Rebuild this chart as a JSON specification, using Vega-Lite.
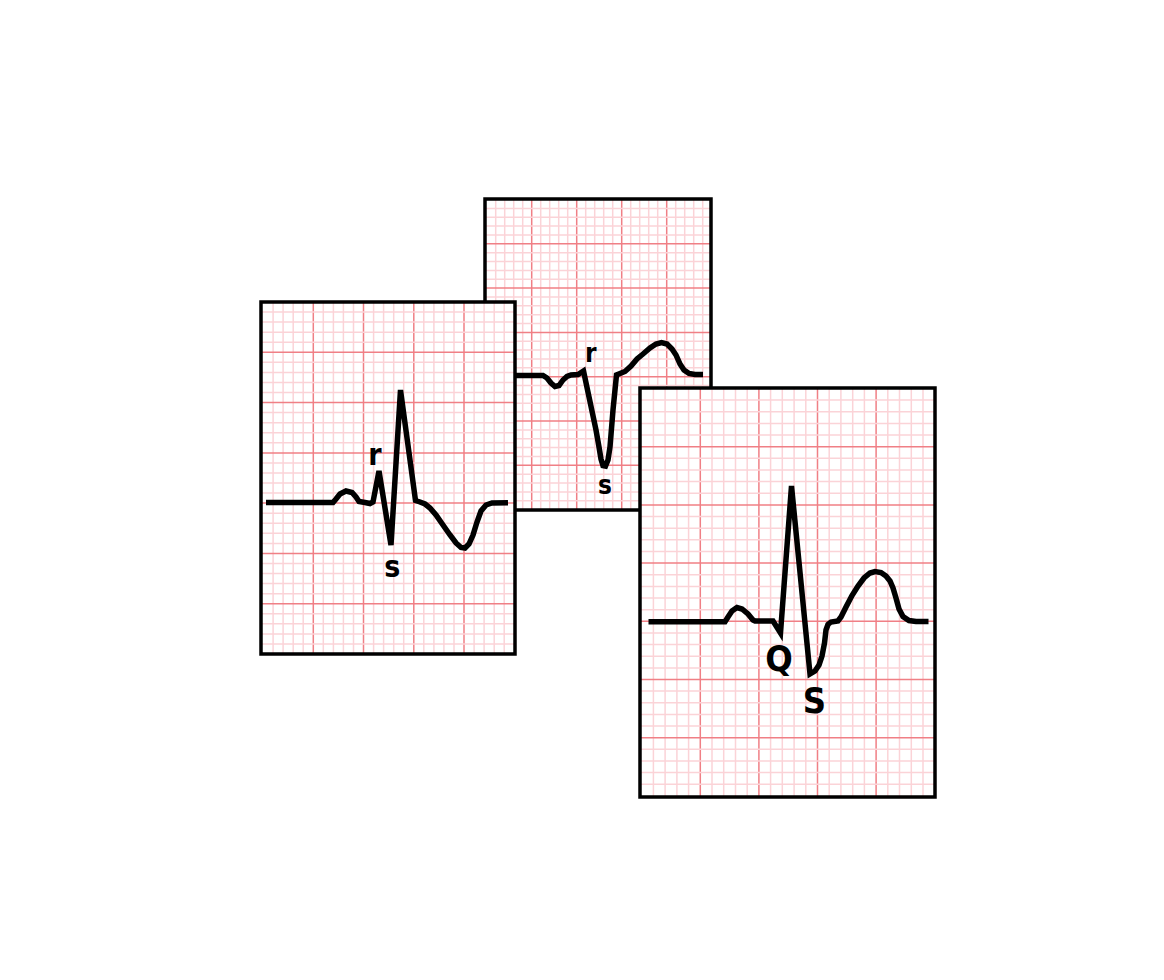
{
"$schema":"https://vega.github.io/schema/vega-lite/v6.json",
"width":1164,"height":980,"autosize":{"type":"fit","contains":"padding"},"padding":0,
"background":"#ffffff",
"config":{"view":{"stroke":null}},
"datasets":{
"panels":[{"p":"M","l":485,"r":711,"t":199,"b":510},{"p":"L","l":261,"r":515,"t":302,"b":654},{"p":"R","l":640,"r":935,"t":388,"b":797}],
"v":[
{"p":"L","k":"m","c":273.1},{"p":"L","k":"m","c":283.1},{"p":"L","k":"m","c":293.2},{"p":"L","k":"m","c":303.2},{"p":"L","k":"m","c":323.3},{"p":"L","k":"m","c":333.4},{"p":"L","k":"m","c":343.4},{"p":"L","k":"m","c":353.5},{"p":"L","k":"m","c":373.6},{"p":"L","k":"m","c":383.6},{"p":"L","k":"m","c":393.7},{"p":"L","k":"m","c":403.7},{"p":"L","k":"m","c":423.8},{"p":"L","k":"m","c":433.9},{"p":"L","k":"m","c":443.9},{"p":"L","k":"m","c":454.0},{"p":"L","k":"m","c":474.1},{"p":"L","k":"m","c":484.1},{"p":"L","k":"m","c":494.2},{"p":"L","k":"m","c":504.2},
{"p":"L","k":"M","c":313.3},{"p":"L","k":"M","c":363.5},{"p":"L","k":"M","c":413.8},{"p":"L","k":"M","c":464.0},
{"p":"M","k":"m","c":495.7},{"p":"M","k":"m","c":504.7},{"p":"M","k":"m","c":513.7},{"p":"M","k":"m","c":522.7},{"p":"M","k":"m","c":540.7},{"p":"M","k":"m","c":549.7},{"p":"M","k":"m","c":558.7},{"p":"M","k":"m","c":567.7},{"p":"M","k":"m","c":585.7},{"p":"M","k":"m","c":594.7},{"p":"M","k":"m","c":603.7},{"p":"M","k":"m","c":612.7},{"p":"M","k":"m","c":630.7},{"p":"M","k":"m","c":639.7},{"p":"M","k":"m","c":648.7},{"p":"M","k":"m","c":657.7},{"p":"M","k":"m","c":675.7},{"p":"M","k":"m","c":684.7},{"p":"M","k":"m","c":693.7},{"p":"M","k":"m","c":702.7},
{"p":"M","k":"M","c":531.7},{"p":"M","k":"M","c":576.7},{"p":"M","k":"M","c":621.7},{"p":"M","k":"M","c":666.7},
{"p":"R","k":"m","c":653.4},{"p":"R","k":"m","c":665.1},{"p":"R","k":"m","c":676.9},{"p":"R","k":"m","c":688.6},{"p":"R","k":"m","c":712.0},{"p":"R","k":"m","c":723.7},{"p":"R","k":"m","c":735.5},{"p":"R","k":"m","c":747.2},{"p":"R","k":"m","c":770.6},{"p":"R","k":"m","c":782.3},{"p":"R","k":"m","c":794.1},{"p":"R","k":"m","c":805.8},{"p":"R","k":"m","c":829.2},{"p":"R","k":"m","c":840.9},{"p":"R","k":"m","c":852.7},{"p":"R","k":"m","c":864.4},{"p":"R","k":"m","c":887.8},{"p":"R","k":"m","c":899.5},{"p":"R","k":"m","c":911.3},{"p":"R","k":"m","c":923.0},
{"p":"R","k":"M","c":700.3},{"p":"R","k":"M","c":758.9},{"p":"R","k":"M","c":817.5},{"p":"R","k":"M","c":876.1}
],
"h":[
{"p":"L","k":"m","c":312.1},{"p":"L","k":"m","c":322.1},{"p":"L","k":"m","c":332.2},{"p":"L","k":"m","c":342.2},{"p":"L","k":"m","c":362.3},{"p":"L","k":"m","c":372.4},{"p":"L","k":"m","c":382.5},{"p":"L","k":"m","c":392.5},{"p":"L","k":"m","c":412.6},{"p":"L","k":"m","c":422.7},{"p":"L","k":"m","c":432.7},{"p":"L","k":"m","c":442.8},{"p":"L","k":"m","c":462.9},{"p":"L","k":"m","c":473.0},{"p":"L","k":"m","c":483.0},{"p":"L","k":"m","c":493.1},{"p":"L","k":"m","c":513.2},{"p":"L","k":"m","c":523.3},{"p":"L","k":"m","c":533.3},{"p":"L","k":"m","c":543.4},{"p":"L","k":"m","c":563.5},{"p":"L","k":"m","c":573.5},{"p":"L","k":"m","c":583.6},{"p":"L","k":"m","c":593.7},{"p":"L","k":"m","c":613.8},{"p":"L","k":"m","c":623.8},{"p":"L","k":"m","c":633.9},{"p":"L","k":"m","c":643.9},
{"p":"L","k":"M","c":352.3},{"p":"L","k":"M","c":402.6},{"p":"L","k":"M","c":452.9},{"p":"L","k":"M","c":503.1},{"p":"L","k":"M","c":553.4},{"p":"L","k":"M","c":603.7},
{"p":"M","k":"m","c":208.4},{"p":"M","k":"m","c":217.2},{"p":"M","k":"m","c":226.1},{"p":"M","k":"m","c":234.9},{"p":"M","k":"m","c":252.7},{"p":"M","k":"m","c":261.5},{"p":"M","k":"m","c":270.4},{"p":"M","k":"m","c":279.2},{"p":"M","k":"m","c":297.0},{"p":"M","k":"m","c":305.8},{"p":"M","k":"m","c":314.7},{"p":"M","k":"m","c":323.5},{"p":"M","k":"m","c":341.3},{"p":"M","k":"m","c":350.1},{"p":"M","k":"m","c":359.0},{"p":"M","k":"m","c":367.8},{"p":"M","k":"m","c":385.6},{"p":"M","k":"m","c":394.4},{"p":"M","k":"m","c":403.3},{"p":"M","k":"m","c":412.1},{"p":"M","k":"m","c":429.9},{"p":"M","k":"m","c":438.7},{"p":"M","k":"m","c":447.6},{"p":"M","k":"m","c":456.4},{"p":"M","k":"m","c":474.2},{"p":"M","k":"m","c":483.0},{"p":"M","k":"m","c":491.9},{"p":"M","k":"m","c":500.7},
{"p":"M","k":"M","c":243.8},{"p":"M","k":"M","c":288.1},{"p":"M","k":"M","c":332.4},{"p":"M","k":"M","c":376.7},{"p":"M","k":"M","c":421.0},{"p":"M","k":"M","c":465.3},
{"p":"R","k":"m","c":400.1},{"p":"R","k":"m","c":411.8},{"p":"R","k":"m","c":423.4},{"p":"R","k":"m","c":435.1},{"p":"R","k":"m","c":458.3},{"p":"R","k":"m","c":470.0},{"p":"R","k":"m","c":481.6},{"p":"R","k":"m","c":493.3},{"p":"R","k":"m","c":516.5},{"p":"R","k":"m","c":528.2},{"p":"R","k":"m","c":539.8},{"p":"R","k":"m","c":551.5},{"p":"R","k":"m","c":574.7},{"p":"R","k":"m","c":586.4},{"p":"R","k":"m","c":598.0},{"p":"R","k":"m","c":609.7},{"p":"R","k":"m","c":632.9},{"p":"R","k":"m","c":644.6},{"p":"R","k":"m","c":656.2},{"p":"R","k":"m","c":667.9},{"p":"R","k":"m","c":691.1},{"p":"R","k":"m","c":702.8},{"p":"R","k":"m","c":714.4},{"p":"R","k":"m","c":726.1},{"p":"R","k":"m","c":749.3},{"p":"R","k":"m","c":761.0},{"p":"R","k":"m","c":772.6},{"p":"R","k":"m","c":784.3},
{"p":"R","k":"M","c":446.7},{"p":"R","k":"M","c":504.9},{"p":"R","k":"M","c":563.1},{"p":"R","k":"M","c":621.3},{"p":"R","k":"M","c":679.5},{"p":"R","k":"M","c":737.7}
],
"trace":[
{"p":"L","x":266,"y":502.5},{"p":"L","x":333,"y":502.5},{"p":"L","x":336,"y":499},{"p":"L","x":340,"y":494},{"p":"L","x":346,"y":491},{"p":"L","x":352,"y":492.5},{"p":"L","x":356,"y":497},{"p":"L","x":359,"y":501.5},{"p":"L","x":365,"y":502.5},{"p":"L","x":370,"y":503.5},{"p":"L","x":373,"y":502},{"p":"L","x":379,"y":471},{"p":"L","x":391,"y":545},{"p":"L","x":400.5,"y":390},{"p":"L","x":415.5,"y":500.5},{"p":"L","x":420,"y":502},{"p":"L","x":425,"y":504},{"p":"L","x":430,"y":508},{"p":"L","x":436,"y":515},{"p":"L","x":443,"y":525},{"p":"L","x":450,"y":535},{"p":"L","x":456,"y":543},{"p":"L","x":461,"y":547.5},{"p":"L","x":465,"y":548},{"p":"L","x":469,"y":544},{"p":"L","x":473,"y":535},{"p":"L","x":477,"y":522},{"p":"L","x":481,"y":511},{"p":"L","x":486,"y":505},{"p":"L","x":492,"y":503},{"p":"L","x":508,"y":502.7},
{"p":"M","x":488,"y":375.5},{"p":"M","x":543,"y":375.5},{"p":"M","x":547,"y":378},{"p":"M","x":551,"y":383},{"p":"M","x":555,"y":386.5},{"p":"M","x":559,"y":385.5},{"p":"M","x":563,"y":380},{"p":"M","x":567,"y":376.5},{"p":"M","x":571,"y":375},{"p":"M","x":578,"y":374.5},{"p":"M","x":583.5,"y":371},{"p":"M","x":596,"y":430},{"p":"M","x":599,"y":447},{"p":"M","x":601,"y":459},{"p":"M","x":603,"y":465.5},{"p":"M","x":605.5,"y":466},{"p":"M","x":608,"y":460},{"p":"M","x":610,"y":447},{"p":"M","x":613,"y":410},{"p":"M","x":616.5,"y":375},{"p":"M","x":620,"y":373.5},{"p":"M","x":625,"y":371.5},{"p":"M","x":631,"y":366},{"p":"M","x":637,"y":359},{"p":"M","x":643,"y":354},{"p":"M","x":650,"y":348},{"p":"M","x":656,"y":344},{"p":"M","x":661.5,"y":342.5},{"p":"M","x":667,"y":344},{"p":"M","x":672,"y":349},{"p":"M","x":676,"y":355},{"p":"M","x":680,"y":364},{"p":"M","x":684,"y":370},{"p":"M","x":689,"y":373.5},{"p":"M","x":695,"y":374.5},{"p":"M","x":703,"y":374.5},
{"p":"R","x":648.5,"y":621.8},{"p":"R","x":725,"y":621.8},{"p":"R","x":728,"y":617},{"p":"R","x":732,"y":611},{"p":"R","x":737,"y":607.5},{"p":"R","x":742,"y":609},{"p":"R","x":748,"y":614},{"p":"R","x":753,"y":620},{"p":"R","x":755,"y":621},{"p":"R","x":773,"y":621},{"p":"R","x":780.5,"y":633},{"p":"R","x":791.5,"y":486},{"p":"R","x":810,"y":674},{"p":"R","x":815,"y":671},{"p":"R","x":819,"y":665},{"p":"R","x":822,"y":656},{"p":"R","x":824.5,"y":643},{"p":"R","x":826,"y":630},{"p":"R","x":828,"y":624.5},{"p":"R","x":831,"y":622},{"p":"R","x":838,"y":621},{"p":"R","x":841,"y":617},{"p":"R","x":846,"y":607},{"p":"R","x":852,"y":595.5},{"p":"R","x":858,"y":586},{"p":"R","x":864,"y":578},{"p":"R","x":870,"y":573},{"p":"R","x":875,"y":571.5},{"p":"R","x":881,"y":572.5},{"p":"R","x":886,"y":576},{"p":"R","x":890,"y":581},{"p":"R","x":893,"y":588},{"p":"R","x":896,"y":598},{"p":"R","x":899,"y":609},{"p":"R","x":903,"y":616.5},{"p":"R","x":909,"y":620.5},{"p":"R","x":916,"y":621.5},{"p":"R","x":928.5,"y":621.5}
],
"labels":[
{"p":"L","t":"r","x":375,"y":465},{"p":"L","t":"s","x":392.3,"y":576.7},
{"p":"M","t":"r","x":590.7,"y":361.7},{"p":"M","t":"s","x":605,"y":494.3},
{"p":"R","t":"Q","x":779,"y":671},{"p":"R","t":"S","x":814.3,"y":713.3}
]
},
"layer":[
{"layer":[
{"data":{"name":"panels"},"transform":[{"filter":"datum.p==='M'"}],"mark":{"type":"rect","fill":"#ffffff"},"encoding":{"x":{"field":"l","type":"quantitative","scale":{"domain":[0,1164],"nice":false,"zero":false},"axis":null},"x2":{"field":"r"},"y":{"field":"t","type":"quantitative","scale":{"domain":[0,980],"nice":false,"zero":false,"reverse":true},"axis":null},"y2":{"field":"b"}}},
{"data":{"name":"v"},"transform":[{"filter":"datum.p==='M'"},{"lookup":"p","from":{"data":{"name":"panels"},"key":"p","fields":["t","b"]}}],"mark":{"type":"rule","strokeWidth":1.5},"encoding":{"x":{"field":"c","type":"quantitative","scale":{"domain":[0,1164],"nice":false,"zero":false},"axis":null},"y":{"field":"t","type":"quantitative","scale":{"domain":[0,980],"nice":false,"zero":false,"reverse":true},"axis":null},"y2":{"field":"b"},"color":{"field":"k","type":"nominal","scale":{"domain":["m","M"],"range":["#fbd3d7","#f07f85"]},"legend":null}}},
{"data":{"name":"h"},"transform":[{"filter":"datum.p==='M'"},{"lookup":"p","from":{"data":{"name":"panels"},"key":"p","fields":["l","r"]}}],"mark":{"type":"rule","strokeWidth":1.5},"encoding":{"y":{"field":"c","type":"quantitative","scale":{"domain":[0,980],"nice":false,"zero":false,"reverse":true},"axis":null},"x":{"field":"l","type":"quantitative","scale":{"domain":[0,1164],"nice":false,"zero":false},"axis":null},"x2":{"field":"r"},"color":{"field":"k","type":"nominal","scale":{"domain":["m","M"],"range":["#fbd3d7","#f07f85"]},"legend":null}}},
{"data":{"name":"panels"},"transform":[{"filter":"datum.p==='M'"}],"mark":{"type":"rect","fillOpacity":0,"stroke":"#000000","strokeWidth":3.5},"encoding":{"x":{"field":"l","type":"quantitative","scale":{"domain":[0,1164],"nice":false,"zero":false},"axis":null},"x2":{"field":"r"},"y":{"field":"t","type":"quantitative","scale":{"domain":[0,980],"nice":false,"zero":false,"reverse":true},"axis":null},"y2":{"field":"b"}}},
{"data":{"name":"trace"},"transform":[{"filter":"datum.p==='M'"}],"mark":{"type":"line","color":"#000000","strokeWidth":5.5,"strokeCap":"butt","strokeJoin":"miter"},"encoding":{"x":{"field":"x","type":"quantitative","scale":{"domain":[0,1164],"nice":false,"zero":false},"axis":null},"y":{"field":"y","type":"quantitative","scale":{"domain":[0,980],"nice":false,"zero":false,"reverse":true},"axis":null}}},
{"data":{"name":"labels"},"transform":[{"filter":"datum.p==='M'"}],"mark":{"type":"text","font":"'Liberation Sans Narrow', 'DejaVu Sans Condensed', 'Roboto', sans-serif","fontWeight":"bold","fontSize":26,"align":"center","baseline":"alphabetic","color":"#000000"},"encoding":{"x":{"field":"x","type":"quantitative","scale":{"domain":[0,1164],"nice":false,"zero":false},"axis":null},"y":{"field":"y","type":"quantitative","scale":{"domain":[0,980],"nice":false,"zero":false,"reverse":true},"axis":null},"text":{"field":"t"}}}
]},
{"layer":[
{"data":{"name":"panels"},"transform":[{"filter":"datum.p==='L'"}],"mark":{"type":"rect","fill":"#ffffff"},"encoding":{"x":{"field":"l","type":"quantitative","scale":{"domain":[0,1164],"nice":false,"zero":false},"axis":null},"x2":{"field":"r"},"y":{"field":"t","type":"quantitative","scale":{"domain":[0,980],"nice":false,"zero":false,"reverse":true},"axis":null},"y2":{"field":"b"}}},
{"data":{"name":"v"},"transform":[{"filter":"datum.p==='L'"},{"lookup":"p","from":{"data":{"name":"panels"},"key":"p","fields":["t","b"]}}],"mark":{"type":"rule","strokeWidth":1.5},"encoding":{"x":{"field":"c","type":"quantitative","scale":{"domain":[0,1164],"nice":false,"zero":false},"axis":null},"y":{"field":"t","type":"quantitative","scale":{"domain":[0,980],"nice":false,"zero":false,"reverse":true},"axis":null},"y2":{"field":"b"},"color":{"field":"k","type":"nominal","scale":{"domain":["m","M"],"range":["#fbd3d7","#f07f85"]},"legend":null}}},
{"data":{"name":"h"},"transform":[{"filter":"datum.p==='L'"},{"lookup":"p","from":{"data":{"name":"panels"},"key":"p","fields":["l","r"]}}],"mark":{"type":"rule","strokeWidth":1.5},"encoding":{"y":{"field":"c","type":"quantitative","scale":{"domain":[0,980],"nice":false,"zero":false,"reverse":true},"axis":null},"x":{"field":"l","type":"quantitative","scale":{"domain":[0,1164],"nice":false,"zero":false},"axis":null},"x2":{"field":"r"},"color":{"field":"k","type":"nominal","scale":{"domain":["m","M"],"range":["#fbd3d7","#f07f85"]},"legend":null}}},
{"data":{"name":"panels"},"transform":[{"filter":"datum.p==='L'"}],"mark":{"type":"rect","fillOpacity":0,"stroke":"#000000","strokeWidth":3.5},"encoding":{"x":{"field":"l","type":"quantitative","scale":{"domain":[0,1164],"nice":false,"zero":false},"axis":null},"x2":{"field":"r"},"y":{"field":"t","type":"quantitative","scale":{"domain":[0,980],"nice":false,"zero":false,"reverse":true},"axis":null},"y2":{"field":"b"}}},
{"data":{"name":"trace"},"transform":[{"filter":"datum.p==='L'"}],"mark":{"type":"line","color":"#000000","strokeWidth":5.5,"strokeCap":"butt","strokeJoin":"miter"},"encoding":{"x":{"field":"x","type":"quantitative","scale":{"domain":[0,1164],"nice":false,"zero":false},"axis":null},"y":{"field":"y","type":"quantitative","scale":{"domain":[0,980],"nice":false,"zero":false,"reverse":true},"axis":null}}},
{"data":{"name":"labels"},"transform":[{"filter":"datum.p==='L'"}],"mark":{"type":"text","font":"'Liberation Sans Narrow', 'DejaVu Sans Condensed', 'Roboto', sans-serif","fontWeight":"bold","fontSize":30,"align":"center","baseline":"alphabetic","color":"#000000"},"encoding":{"x":{"field":"x","type":"quantitative","scale":{"domain":[0,1164],"nice":false,"zero":false},"axis":null},"y":{"field":"y","type":"quantitative","scale":{"domain":[0,980],"nice":false,"zero":false,"reverse":true},"axis":null},"text":{"field":"t"}}}
]},
{"layer":[
{"data":{"name":"panels"},"transform":[{"filter":"datum.p==='R'"}],"mark":{"type":"rect","fill":"#ffffff"},"encoding":{"x":{"field":"l","type":"quantitative","scale":{"domain":[0,1164],"nice":false,"zero":false},"axis":null},"x2":{"field":"r"},"y":{"field":"t","type":"quantitative","scale":{"domain":[0,980],"nice":false,"zero":false,"reverse":true},"axis":null},"y2":{"field":"b"}}},
{"data":{"name":"v"},"transform":[{"filter":"datum.p==='R'"},{"lookup":"p","from":{"data":{"name":"panels"},"key":"p","fields":["t","b"]}}],"mark":{"type":"rule","strokeWidth":1.5},"encoding":{"x":{"field":"c","type":"quantitative","scale":{"domain":[0,1164],"nice":false,"zero":false},"axis":null},"y":{"field":"t","type":"quantitative","scale":{"domain":[0,980],"nice":false,"zero":false,"reverse":true},"axis":null},"y2":{"field":"b"},"color":{"field":"k","type":"nominal","scale":{"domain":["m","M"],"range":["#fbd3d7","#f07f85"]},"legend":null}}},
{"data":{"name":"h"},"transform":[{"filter":"datum.p==='R'"},{"lookup":"p","from":{"data":{"name":"panels"},"key":"p","fields":["l","r"]}}],"mark":{"type":"rule","strokeWidth":1.5},"encoding":{"y":{"field":"c","type":"quantitative","scale":{"domain":[0,980],"nice":false,"zero":false,"reverse":true},"axis":null},"x":{"field":"l","type":"quantitative","scale":{"domain":[0,1164],"nice":false,"zero":false},"axis":null},"x2":{"field":"r"},"color":{"field":"k","type":"nominal","scale":{"domain":["m","M"],"range":["#fbd3d7","#f07f85"]},"legend":null}}},
{"data":{"name":"panels"},"transform":[{"filter":"datum.p==='R'"}],"mark":{"type":"rect","fillOpacity":0,"stroke":"#000000","strokeWidth":3.5},"encoding":{"x":{"field":"l","type":"quantitative","scale":{"domain":[0,1164],"nice":false,"zero":false},"axis":null},"x2":{"field":"r"},"y":{"field":"t","type":"quantitative","scale":{"domain":[0,980],"nice":false,"zero":false,"reverse":true},"axis":null},"y2":{"field":"b"}}},
{"data":{"name":"trace"},"transform":[{"filter":"datum.p==='R'"}],"mark":{"type":"line","color":"#000000","strokeWidth":5.5,"strokeCap":"butt","strokeJoin":"miter"},"encoding":{"x":{"field":"x","type":"quantitative","scale":{"domain":[0,1164],"nice":false,"zero":false},"axis":null},"y":{"field":"y","type":"quantitative","scale":{"domain":[0,980],"nice":false,"zero":false,"reverse":true},"axis":null}}},
{"data":{"name":"labels"},"transform":[{"filter":"datum.p==='R'"}],"mark":{"type":"text","font":"'Liberation Sans Narrow', 'DejaVu Sans Condensed', 'Roboto', sans-serif","fontWeight":"bold","fontSize":36,"align":"center","baseline":"alphabetic","color":"#000000"},"encoding":{"x":{"field":"x","type":"quantitative","scale":{"domain":[0,1164],"nice":false,"zero":false},"axis":null},"y":{"field":"y","type":"quantitative","scale":{"domain":[0,980],"nice":false,"zero":false,"reverse":true},"axis":null},"text":{"field":"t"}}}
]}
]
}
